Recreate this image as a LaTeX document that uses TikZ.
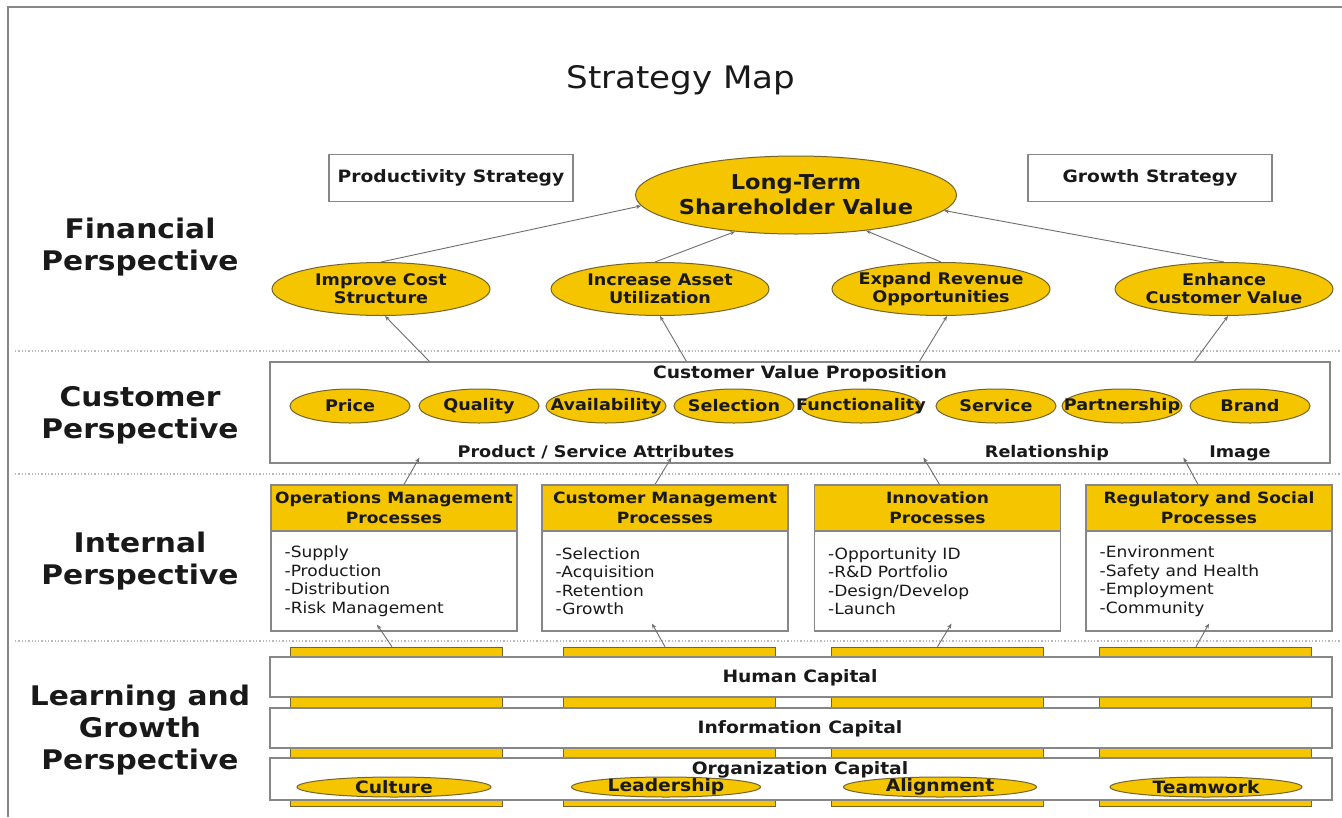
\documentclass[tikz,border=0pt]{standalone}
\usepackage{fontspec}
\setmainfont[FakeStretch=1.1]{DejaVu Sans}
\usetikzlibrary{shapes.geometric,arrows.meta}
\definecolor{gold}{RGB}{245,197,0}
\definecolor{rim}{RGB}{115,100,45}
\definecolor{framegray}{RGB}{135,135,135}
\definecolor{ink}{RGB}{25,25,25}
\definecolor{arrowgray}{RGB}{110,110,110}

\begin{document}
\begin{tikzpicture}[x=1pt,y=-1pt,
  every node/.style={text=ink, inner sep=0pt, align=center},
  % negative inner sep keeps each ellipse at its minimum size, the text may run over the rim
  oval/.style={ellipse, draw=rim, fill=gold, line width=1pt,
    inner xsep=-40pt, inner ysep=-12pt},
  finoval/.style={oval, minimum width=218pt, minimum height=53pt,
    font=\fontsize{16}{18}\selectfont\bfseries},
  attr/.style={oval, minimum width=120pt, minimum height=34pt,
    font=\fontsize{16}{18}\selectfont\bfseries},
  orgoval/.style={oval, minimum height=20pt,
    font=\fontsize{17}{18}\selectfont\bfseries},
  persp/.style={font=\fontsize{27}{32}\selectfont\bfseries},
  stratbox/.style={draw=framegray, line width=1.2pt, fill=white,
    minimum width=244pt, minimum height=47pt,
    font=\fontsize{17}{19}\selectfont\bfseries},
  prochead/.style={draw=framegray, line width=1.2pt, fill=gold,
    minimum width=246pt, minimum height=46pt,
    font=\fontsize{15.5}{20}\selectfont\bfseries},
  procbody/.style={draw=framegray, line width=1.2pt, fill=white,
    minimum width=246pt, minimum height=100pt},
  proclist/.style={anchor=west, align=left,
    font=\fontsize{15.5}{18.5}\selectfont},
  column/.style={fill=gold, draw=rim, line width=0.6pt,
    minimum width=212pt, minimum height=159pt},
  capbar/.style={draw=framegray, line width=1.2pt, fill=white,
    minimum width=1062pt},
  boldtext/.style={font=\fontsize{16}{18}\selectfont\bfseries,
    text height=11pt, text depth=3pt},
  captext/.style={font=\fontsize{17}{18}\selectfont\bfseries},
  sep/.style={draw=gray!55, dotted, line width=1.3pt},
  arr/.style={draw=arrowgray, line width=0.9pt,
    -{Stealth[length=5pt,width=4pt]}}
]
\useasboundingbox (0,0) rectangle (1342,817);
\fill[white] (0,0) rectangle (1342,817);

% page frame
\draw[framegray, line width=1.5pt] (8,817) -- (8,7) -- (1342,7);

% perspective separators
\draw[sep] (15,351) -- (1340,351);
\draw[sep] (15,474) -- (1340,474);
\draw[sep] (15,641) -- (1340,641);

% title
\node[font=\fontsize{31}{38}\selectfont] (title) at (681,80) {Strategy Map};

% perspective labels
\node[persp] (pfin) at (140,247) {Financial\\Perspective};
\node[persp] (pcus) at (140,415) {Customer\\Perspective};
\node[persp] (pint) at (140,561) {Internal\\Perspective};
\node[persp] (plg)  at (140,730) {Learning and\\Growth\\Perspective};

% financial perspective
\node[stratbox] (prod) at (451,178) {Productivity Strategy};
\node[stratbox] (grow) at (1150,178) {Growth Strategy};
\node[oval, minimum width=321pt, minimum height=78pt,
  font=\fontsize{20.5}{25}\selectfont\bfseries] (ltsv) at (796,195)
  {Long-Term\\Shareholder Value};
\node[finoval] (ics) at (381,289) {Improve Cost\\Structure};
\node[finoval] (iau) at (660,289) {Increase Asset\\Utilization};
\node[finoval] (err) at (941,289) {Expand Revenue\\Opportunities};
\node[finoval] (ecv) at (1224,289) {Enhance\\Customer Value};

% customer perspective
\node[draw=framegray, line width=1.2pt, minimum width=1060pt,
  minimum height=101pt] (cvp) at (800,412.5) {};
\node[boldtext, font=\fontsize{17}{18}\selectfont\bfseries] (cvpt) at (800,374) {Customer Value Proposition};
\node[attr] (price) at (350,406) {Price};
\node[attr] (qual)  at (479,406) {Quality};
\node[attr] (avail) at (606,406) {Availability};
\node[attr] (selec) at (734,406) {Selection};
\node[attr] (func)  at (861,406) {Functionality};
\node[attr] (serv)  at (996,406) {Service};
\node[attr] (part)  at (1122,406) {Partnership};
\node[attr] (brand) at (1250,406) {Brand};
\node[boldtext] (psa) at (596,453) {Product / Service Attributes};
\node[boldtext] (rel) at (1047,453) {Relationship};
\node[boldtext] (img) at (1240,453) {Image};

% internal perspective
\node[procbody] (opsb) at (394,581) {};
\node[prochead] (opsh) at (394,508) {Operations Management\\Processes};
\node[proclist] at ([xshift=14pt]opsb.west)
  {-Supply\\-Production\\-Distribution\\-Risk Management};
\node[procbody] (cmb) at (665,581) {};
\node[prochead] (cmh) at (665,508) {Customer Management\\Processes};
\node[proclist] at ([xshift=14pt]cmb.west)
  {-Selection\\-Acquisition\\-Retention\\-Growth};
\node[procbody] (innb) at (937.5,581) {};
\node[prochead] (innh) at (937.5,508) {Innovation\\Processes};
\node[proclist] at ([xshift=14pt]innb.west)
  {-Opportunity ID\\-R\&D Portfolio\\-Design/Develop\\-Launch};
\node[procbody] (regb) at (1209,581) {};
\node[prochead] (regh) at (1209,508) {Regulatory and Social\\Processes};
\node[proclist] at ([xshift=14pt]regb.west)
  {-Environment\\-Safety and Health\\-Employment\\-Community};

% learning and growth perspective
\node[column] (col1) at (396,726.5) {};
\node[column] (col2) at (669,726.5) {};
\node[column] (col3) at (937.5,726.5) {};
\node[column] (col4) at (1205,726.5) {};
\node[capbar, minimum height=40pt] (hc) at (801,677) {};
\node[capbar, minimum height=40pt] (ic) at (801,728) {};
\node[capbar, minimum height=42pt] (oc) at (801,779) {};
\node[captext] (hct) at (800,678) {Human Capital};
\node[captext] (ict) at (800,729) {Information Capital};
\node[captext] (oct) at (800,770) {Organization Capital};
\node[orgoval, minimum width=194pt] (cult) at (394,787) {Culture};
\node[orgoval, minimum width=189pt] (lead) at (666,787) {Leadership};
\node[orgoval, minimum width=193pt] (align) at (940,787) {Alignment};
\node[orgoval, minimum width=192pt] (team) at (1206,787) {Teamwork};

% financial objectives feed shareholder value
\draw[arr] (ics.north) -- (ltsv.184);
\draw[arr] ([xshift=-5pt]iau.north) -- (ltsv.211);
\draw[arr] (err.north) -- (ltsv.333);
\draw[arr] (ecv.north) -- (ltsv.354);

% customer value proposition feeds financial objectives
\draw[arr] ([xshift=160pt]cvp.north west) -- ([xshift=4pt]ics.south);
\draw[arr] ([xshift=417pt]cvp.north west) -- (iau.south);
\draw[arr] ([xshift=650pt]cvp.north west) -- ([xshift=6pt]err.south);
\draw[arr] ([xshift=925pt]cvp.north west) -- ([xshift=4pt]ecv.south);

% internal processes feed customer value proposition
\draw[arr] ([xshift=10pt]opsh.north) -- ([xshift=150pt,yshift=6pt]cvp.south west);
\draw[arr] ([xshift=-10pt]cmh.north) -- ([xshift=402pt,yshift=6pt]cvp.south west);
\draw[arr] ([xshift=2pt]innh.north) -- ([xshift=654pt,yshift=6pt]cvp.south west);
\draw[arr] ([xshift=-11pt]regh.north) -- ([xshift=914pt,yshift=6pt]cvp.south west);

% intangible assets feed internal processes
\draw[arr] ([xshift=-4pt]col1.north) -- ([xshift=-17pt,yshift=7pt]opsb.south);
\draw[arr] ([xshift=-4pt]col2.north) -- ([xshift=-13pt,yshift=8pt]cmb.south);
\draw[arr] (col3.north) -- ([xshift=14pt,yshift=8pt]innb.south);
\draw[arr] ([xshift=-9pt]col4.north) -- ([xshift=0pt,yshift=8pt]regb.south);
\end{tikzpicture}
\end{document}
